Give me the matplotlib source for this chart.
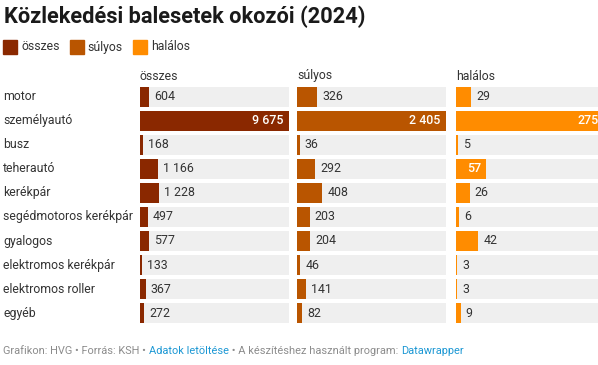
import matplotlib
matplotlib.use("Agg")
import matplotlib.pyplot as plt
from matplotlib.patches import Rectangle

plt.rcParams['font.family'] = ['Roboto', 'DejaVu Sans']

categories = ["motor", "személyautó", "busz", "teherautó", "kerékpár",
              "segédmotoros kerékpár", "gyalogos", "elektromos kerékpár",
              "elektromos roller", "egyéb"]
osszes = [604, 9675, 168, 1166, 1228, 497, 577, 133, 367, 272]
sulyos = [326, 2405, 36, 292, 408, 203, 204, 46, 141, 82]
halalos = [29, 275, 5, 57, 26, 6, 42, 3, 3, 9]
series_names = ["összes", "súlyos", "halálos"]
colors = ["#8a2800", "#b95500", "#ff8c00"]

W, H = 598, 365
fig = plt.figure(figsize=(W / 100, H / 100), dpi=100)
renderer = fig.canvas.get_renderer()


def fx(x):
    return x / W


def fy(y):
    return 1 - y / H


def fmt(v):
    return f"{v:,}".replace(",", " ")


# title and legend
fig.text(fx(4), fy(23), "Közlekedési balesetek okozói (2024)", fontsize=15.7,
         fontweight="bold", color="#1a1a1a", va="baseline", ha="left")

lx = 3
for name, c in zip(series_names, colors):
    fig.patches.append(Rectangle((fx(lx), fy(54)), fx(14), 14 / H, color=c,
                                 transform=fig.transFigure, figure=fig))
    t = fig.text(fx(lx + 18), fy(47), name, fontsize=8.8, color="#333333",
                 va="center", ha="left")
    w = t.get_window_extent(renderer).width
    lx += 18 + w + 10

# rows
row0, step = 96.7, 24.05
n = len(categories)
top = row0 - step / 2
height = step * n
for i, cat in enumerate(categories):
    fig.text(fx(3), fy(row0 + step * i), cat, fontsize=8.8, color="#333333",
             va="center", ha="left")

col_left = [140, 297.3, 455.7]
col_w = 148.5
for name, vals, c, left in zip(series_names, [osszes, sulyos, halalos], colors, col_left):
    fig.text(fx(left), fy(76), name, fontsize=8.8, color="#333333",
             va="center", ha="left")
    ax = fig.add_axes([fx(left), fy(top + height), col_w / W, height / H])
    vmax = max(vals)
    y = list(range(n))
    ax.barh(y, [vmax] * n, height=0.83, color="#efefef", zorder=1)
    ax.barh(y, vals, height=0.83, color=c, zorder=2)
    ax.set_xlim(0, vmax)
    ax.set_ylim(n - 0.5, -0.5)
    ax.axis("off")
    ppx = col_w / vmax
    for yi, v in zip(y, vals):
        bar_px = v * ppx
        t = ax.text(v, yi, fmt(v), fontsize=8.9, va="center", ha="left",
                    color="#333333", zorder=3)
        w = t.get_window_extent(renderer).width
        if bar_px >= w + 14:
            t.set_ha("right")
            t.set_color("white")
            t.set_fontweight("medium")
            t.set_x(v - 5 / ppx)
        else:
            t.set_x(v + 5 / ppx)

# footer
parts = [("Grafikon: HVG • Forrás: KSH • ", "#8c8c8c"),
         ("Adatok letöltése", "#1d98d4"),
         (" • A készítéshez használt program: ", "#8c8c8c"),
         ("Datawrapper", "#1d98d4")]
x = 3
for txt, c in parts:
    t = fig.text(fx(x), fy(351), txt, fontsize=7.9, color=c, va="center", ha="left")
    x += t.get_window_extent(renderer).width

fig.savefig("out.png", dpi=100)
